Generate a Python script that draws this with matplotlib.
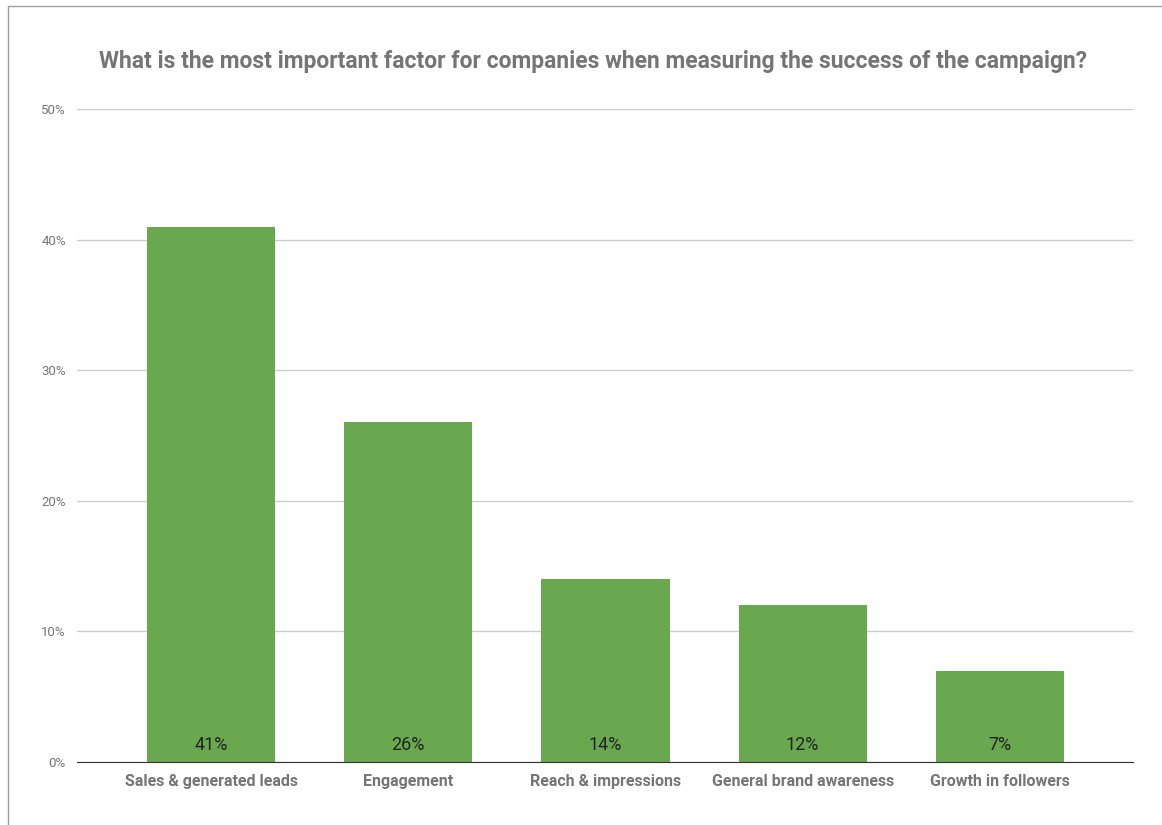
import matplotlib.pyplot as plt
from matplotlib.patches import Rectangle

# data
categories = ['Sales & generated leads', 'Engagement', 'Reach & impressions',
              'General brand awareness', 'Growth in followers']
shares = [41, 26, 14, 12, 7]
yticks = [0, 10, 20, 30, 40, 50]

plt.rcParams['font.family'] = ['Roboto', 'DejaVu Sans']

fig = plt.figure(figsize=(11.62, 8.25), dpi=100)
ax = fig.add_axes([0.0663, 0.0764, 0.9087, 0.7915])

x = range(len(categories))
ax.bar(x, shares, width=0.65, color='#6aa84f', zorder=2)
for i, v in zip(x, shares):
    ax.text(i, 0.6, f'{v}%', ha='center', va='bottom', fontsize=13, color='#222222', zorder=3)

ax.set_xlim(-0.68, 4.675)
ax.set_ylim(0, 50)
ax.set_yticks(yticks)
ax.set_yticklabels([f'{t}%' for t in yticks], fontsize=9.5, color='#757575')
ax.set_xticks(list(x))
ax.set_xticklabels(categories, fontsize=11.5, color='#757575', fontweight='bold')
ax.tick_params(axis='both', length=0)
ax.tick_params(axis='y', pad=8)
ax.tick_params(axis='x', pad=9)
ax.grid(axis='y', color='#cccccc', linewidth=1, zorder=0)
for s in ['top', 'right', 'left']:
    ax.spines[s].set_visible(False)
ax.spines['bottom'].set_color('#333333')
ax.spines['bottom'].set_zorder(4)

fig.text(0.51, 0.925, 'What is the most important factor for companies when measuring the success of the campaign?',
         ha='center', va='center', fontsize=16.5, fontweight='bold', color='#757575')

# outer border
fig.patches.append(Rectangle((8 / 1162, -0.01), 1.02, 1 - 6 / 825 + 0.01, transform=fig.transFigure,
                             fill=False, edgecolor='#9e9e9e', linewidth=1))

fig.savefig('out.png', dpi=100)
